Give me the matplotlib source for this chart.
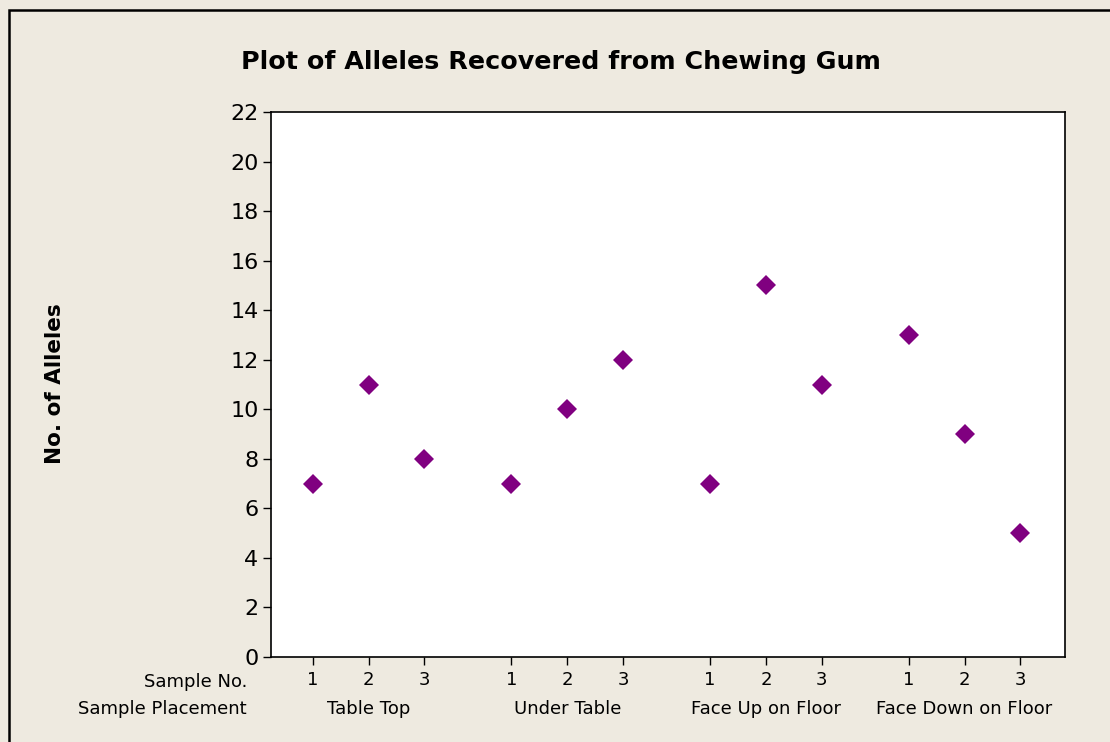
import matplotlib
matplotlib.use('Agg')
import matplotlib.pyplot as plt
from matplotlib.patches import Rectangle

matplotlib.rcParams['font.family'] = ['DejaVu Sans']

# data
placements = ['Table Top', 'Under Table', 'Face Up on Floor', 'Face Down on Floor']
sample_no = ['1', '2', '3']
alleles = [[7, 11, 8],
           [7, 10, 12],
           [7, 15, 11],
           [13, 9, 5]]

bg = '#EEEAE0'
purple = '#800080'
gap = 1.56  # distance between groups

fig = plt.figure(figsize=(11.1, 7.42), dpi=100, facecolor=bg)
ax = fig.add_axes([0.2441, 0.1146, 0.9595 - 0.2441, 0.849 - 0.1146])
ax.set_facecolor('white')

xs, ticklabels, centers = [], [], []
for g, vals in enumerate(alleles):
    base = 1 + g * (2 + gap)
    pos = [base + i for i in range(len(vals))]
    xs += pos
    ticklabels += sample_no
    centers.append(base + 1)
    ax.plot(pos, vals, 'D', color=purple, markersize=10.5, markeredgewidth=0, clip_on=False)

ax.set_xlim(0.25, xs[-1] + 0.8)
ax.set_ylim(0, 22)
ax.set_yticks(range(0, 23, 2))
ax.set_xticks(xs)
ax.set_xticklabels(ticklabels)
ax.tick_params(axis='y', labelsize=16, length=6, width=1, direction='out', pad=3)
ax.tick_params(axis='x', labelsize=13, length=6, width=1, direction='out', pad=4)
for s in ax.spines.values():
    s.set_linewidth(1.2)

# group labels under the sample numbers
for c, name in zip(centers, placements):
    ax.text(c, -0.095, name, transform=ax.get_xaxis_transform(),
            ha='center', va='center', fontsize=13)

fig.text(247 / 1110, 1 - 682 / 742, 'Sample No.', ha='right', va='center', fontsize=13)
fig.text(247 / 1110, 1 - 709 / 742, 'Sample Placement', ha='right', va='center', fontsize=13)

fig.text(561 / 1110, 1 - 62 / 742, 'Plot of Alleles Recovered from Chewing Gum',
         ha='center', va='center', fontsize=18.3, fontweight='bold')
fig.text(55 / 1110, 1 - 384 / 742, 'No. of Alleles', rotation=90,
         ha='center', va='center', fontsize=15.5, fontweight='bold')

# outer frame (runs off right and bottom edges)
fig.patches.append(Rectangle((9 / 1110, -0.05), 1.2, 1 - 10 / 742 + 0.05,
                             transform=fig.transFigure, fill=False,
                             edgecolor='black', linewidth=1.8))

fig.savefig('out.png', dpi=100, facecolor=bg)
